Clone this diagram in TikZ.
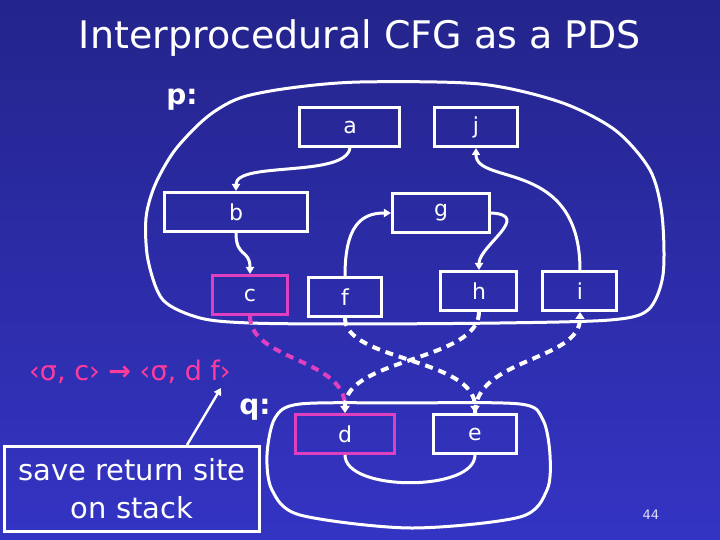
\documentclass[tikz,border=0pt]{standalone}
\usepackage{fontspec}
\setmainfont{DejaVu Sans}
\usepackage{xcolor}
\usetikzlibrary{arrows.meta}
\definecolor{slidetop}{RGB}{36,36,140}
\definecolor{slidebot}{RGB}{52,52,196}
\definecolor{callpink}{RGB}{255,60,156}
\definecolor{callbox}{RGB}{224,64,192}

\begin{document}
\begin{tikzpicture}[x=0.5pt, y=-0.5pt,
  cfgbox/.style={draw=white, line width=1.5pt, inner sep=0pt, text=white,
    font=\fontsize{11}{13}\selectfont, minimum height=19.5pt},
  callnode/.style={cfgbox, draw=callbox},
  blob/.style={draw=white, line width=1.5pt},
  flow/.style={white, line width=1.5pt, -{Triangle[length=3.5pt,width=4pt]}},
  interflow/.style={white, line width=2pt, dash pattern=on 4pt off 3pt,
    -{Triangle[length=3.5pt,width=4.5pt]}}]
% ---- background ----
\shade[top color=slidetop, bottom color=slidebot] (0,0) rectangle (720,540);
\useasboundingbox (0,0) rectangle (720,540);
\node[white, font=\fontsize{19}{22}\selectfont] (title) at (360,38) {Interprocedural CFG as a PDS};
% ---- procedure outlines ----
\draw[blob] plot[smooth cycle] coordinates {(360,82) (480,84) (560,102) (615,130)
  (650,170) (662,215) (663,275) (648,310) (610,320) (500,323) (350,324) (250,323)
  (200,318) (163,300) (148,260) (146,218) (155,185) (175,150) (207,117) (240,98) (290,88)};
\draw[blob] plot[smooth cycle] coordinates {(300,404) (400,403) (520,404) (543,420)
  (550,455) (547,490) (520,517) (410,528) (300,515) (272,490) (267,455) (275,418)};
\node[white, font=\fontsize{14}{16}\selectfont\bfseries] (plabel) at (182,100) {p:};
\node[white, font=\fontsize{14}{16}\selectfont\bfseries] (qlabel) at (255,410) {q:};
% ---- nodes of p ----
\node[cfgbox, minimum width=50pt] (a) at (350,127) {a};
\node[cfgbox, minimum width=41.5pt] (j) at (476,127) {j};
\node[cfgbox, minimum width=71.5pt] (b) at (236,212) {b};
\node[cfgbox, minimum width=48.5pt] (g) at (441,213) {g};
\node[callnode, minimum width=37.5pt] (c) at (250,295) {c};
\node[cfgbox, minimum width=36.5pt] (f) at (345,297) {f};
\node[cfgbox, minimum width=38pt] (h) at (479,291) {h};
\node[cfgbox, minimum width=37pt] (i) at (580,291) {i};
% ---- nodes of q ----
\node[callnode, minimum width=49.5pt] (d) at (345,434) {d};
\node[cfgbox, minimum width=41.5pt] (e) at (475,434) {e};
% ---- intraprocedural edges ----
\draw[flow] (a.south) .. controls +(-5,30) and +(0,-30) .. (b.north);
\draw[flow] (b.south) .. controls +(0,25) and +(0,-25) .. (c.north);
\draw[flow] (f.north) .. controls +(0,-50) and +(-30,0) .. (g.west);
\draw[flow] (g.east) .. controls +(42,2) and +(0,-24) .. (h.north);
\draw[flow] (i.north) .. controls +(0,-112) and +(0,38) .. (j.south);
\draw[white, line width=1.5pt] (d.south) .. controls +(0,37) and +(0,37) .. (e.south);
% ---- call / return edges ----
\draw[interflow, callbox] (c.south) .. controls +(0,45) and +(0,-55) .. (d.north);
\draw[interflow] (f.south) .. controls +(0,43) and +(0,-55) .. (e.north);
\draw[interflow] (h.south) .. controls +(0,49) and +(0,-55) .. (d.north);
\draw[interflow] (e.north) .. controls +(0,-55) and +(0,49) .. (i.south);
% ---- pushdown rule ----
\node[callpink, font=\fontsize{13.5}{16}\selectfont] (rule) at (130,372) {‹σ, c› {\bfseries →} ‹σ, d f›};
\coordinate (df) at (221,388);
\node[cfgbox, minimum width=127.5pt, minimum height=42.5pt, align=center,
  font=\fontsize{14.5}{19}\selectfont] (save) at (132,489) {save return site\\on stack};
\draw[flow, line width=1.2pt] ([xshift=27.5pt]save.north) -- (df);
\node[white!85!slidebot, font=\fontsize{6.5}{8}\selectfont] (pageno) at (651,515) {44};
\end{tikzpicture}
\end{document}
